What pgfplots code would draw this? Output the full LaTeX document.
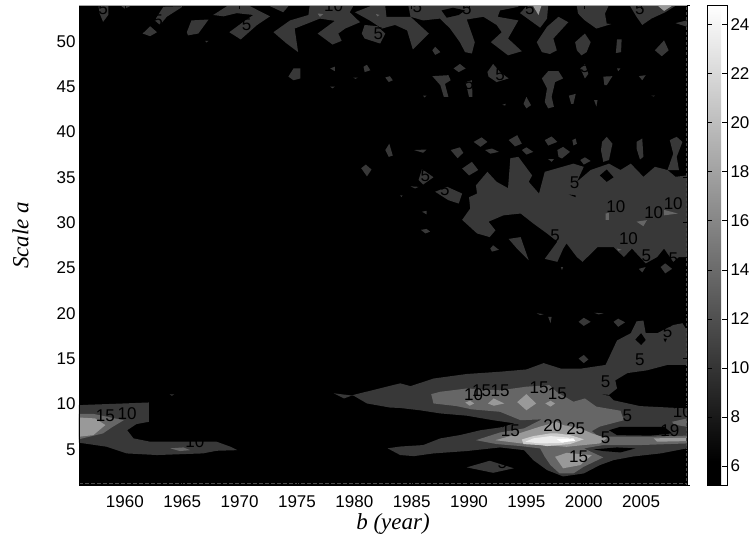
\documentclass[border=0pt]{standalone}
\usepackage{fontspec}
\setmainfont{Liberation Sans}
\newfontfamily\tnr{Liberation Serif}
\usepackage{pgfplots}
\pgfplotsset{compat=1.18}
\definecolor{lA}{gray}{0.22}
\definecolor{lB}{gray}{0.40}
\definecolor{lC}{gray}{0.60}
\definecolor{lD}{gray}{0.80}
\definecolor{lE}{gray}{0.92}
\definecolor{lF}{gray}{1.0}
\newcommand{\region}[2]{\addplot[fill=#1,draw=none,forget plot] coordinates {#2} --cycle;}
\newcommand{\lab}[3]{\node[text=black,font=\fontsize{17}{17}\selectfont,inner sep=0pt] at (axis cs:#1,#2) {#3};}
\begin{document}
\begin{tikzpicture}
\path[use as bounding box] (-79pt,-53.5pt) rectangle (672pt,485.5pt);
\begin{axis}[
  scale only axis,
  width=608pt, height=480.5pt,
  xmin=1956, xmax=2009, ymin=1, ymax=54,
  xtick={1960,1965,...,2005},
  ytick={5,10,...,50},
  tick align=inside,
  major tick length=4pt,
  tick style={black,line width=0.5pt},
  axis on top,
  axis background/.style={fill=black},
  ticklabel style={font=\fontsize{17}{17}\selectfont},
  xticklabel style={yshift=-7pt},
  /pgf/number format/assume math mode=true,
  /pgf/number format/1000 sep={},
  xlabel={\tnr\itshape b (year)},
  ylabel={\tnr\itshape Scale a},
  label style={font=\fontsize{23}{23}\selectfont},
  xlabel style={xshift=10pt,yshift=1pt},
  ylabel style={yshift=21pt,xshift=10pt},
  colormap={cb}{gray(0cm)=(0); gray(1cm)=(0); gray(20cm)=(1)},
  point meta min=5.2, point meta max=24.8,
  colorbar,
  colorbar style={
    scale only axis,
    at={(1.0329,0)}, anchor=south west,
    width=20pt, height=480.5pt,
    ytick={6,8,...,24},
    tick align=inside,
    major tick length=5pt,
    ticklabel style={font=\fontsize{17}{17}\selectfont},
    /pgf/number format/assume math mode=true,
  },
  after end axis/.code={
    \draw[gray!70,line width=0.7pt] (rel axis cs:0,1) -- (rel axis cs:1,1);
    \draw[black,line width=0.7pt] (rel axis cs:1,1) -- ++(3pt,0);
    \draw[black,line width=0.7pt] (rel axis cs:1,0) -- ++(3pt,0);
  },
]
% level 5 band, top left
\region{lA}{(1957.7,53.87) (1958.55,53.87) (1958.55,52.9) (1958.1,52.14) (1957.8,53.06)}
\region{lA}{(1959.7,53.87) (1960.45,53.87) (1960,53.6)}
\region{lA}{(1961.55,50.85) (1962.2,51.66) (1962.8,51) (1962.2,50.56)}
\region{lA}{(1962.6,52.3) (1963.35,53.8) (1965.1,53.87) (1963.65,52.7) (1963.06,51.8)}
\region{lA}{(1965.4,51) (1965.8,52.3) (1967.3,52.4) (1966.4,50.85) (1965.5,50.65)}
\region{lA}{(1967,50.05) (1967.3,50.05) (1967.1,49.86)}
\region{lA}{(1967.7,52.9) (1968.9,53.87) (1970.9,53.87) (1972.65,52.75) (1971.5,51.77) (1970.1,50.2) (1969.1,51) (1970.5,52.3) (1971.2,52.9) (1969.75,53.1) (1968.6,52.75)}
\region{lA}{(1972.95,51) (1974.4,52.3) (1976,52.9) (1976.1,53.87) (1979.9,53.87) (1979.6,53.2) (1980.5,52.1) (1979.2,51.4) (1978.6,50.85) (1978.9,50.05) (1978.1,49.64) (1976.8,50.85) (1978.3,52.25) (1977,52.5) (1974.8,51.4) (1975.1,48.8) (1974.1,49.75)}
\region{lA}{(1972.65,53.87) (1974.25,53.87) (1973.8,53.2)}
\region{lA}{(1980.65,50.85) (1980.9,51.8) (1982,51.66) (1982.7,50.85) (1982.25,49.75) (1980.9,50.3)}
\region{lA}{(1980.05,53.2) (1981.4,53.87) (1982.7,53.87) (1982.8,52.7) (1984.9,52.7) (1986.5,50.85) (1985.1,49.1) (1984.6,51.2) (1983.55,51.8) (1982.4,51.4) (1981.4,52.25)}
\region{lA}{(1977.9,47) (1978.3,47.2) (1978.3,46.7)}
\region{lA}{(1974.25,46.1) (1974.7,47) (1975.3,47) (1975.3,45.9) (1974.7,45.7)}
\region{lA}{(1980.8,47.2) (1981.1,47.4) (1981.4,46.8) (1980.9,46.6)}
\region{lA}{(1979.9,46) (1980.3,46) (1980.1,45.85)}
\region{lA}{(1982.7,46) (1983.1,46.15) (1983.35,45.7) (1983,45.5)}
\region{lA}{(1977.9,45) (1978.3,45) (1978.1,44.8)}
% level 5 band, top right
\region{lA}{(1984.7,54) (1987.47,54) (1987.47,52.5) (1986,52.3) (1984.9,52.7)}
\region{lA}{(1987.47,54) (1994.3,54) (1994.3,53.8) (1992.7,53.4) (1992.5,52.7) (1994.3,52.3) (1993.4,50.3) (1994.6,48.9) (1993.4,48.45) (1991.9,49.9) (1992.85,51) (1992.4,51.8) (1991.25,52.7) (1989.8,52.4) (1990.5,49.9) (1990.25,48.65) (1989.65,48.8) (1989.2,49.9) (1988.35,51.4) (1987.47,52.5)}
\region{black}{(1987.6,53.4) (1988.6,53.7) (1989.65,53.4) (1989.1,52.9) (1988.05,52.6)}
\region{lA}{(1986.8,49) (1987.05,49.4) (1987.5,48.8) (1987.05,48.5)}
\region{lA}{(1994.45,53.1) (1995.1,54) (1996.9,54) (1996.8,52.5) (1996.2,51.5)}
\region{lA}{(1995.9,49.9) (1996.8,51.6) (1997.8,52.7) (1998.65,52.1) (1997.35,50.3) (1997.65,49) (1997.05,48.6) (1996.35,48.8)}
\region{lA}{(1999.4,53.87) (2002.15,53.87) (2001.85,53.06) (2002,51.95) (2002.4,51.9) (2001.1,51.4) (2000.1,52.3) (1999.5,53.06)}
\region{lA}{(2004.05,53.87) (2007.95,53.87) (2007.1,53.2) (2005.9,52.5) (2005.1,51.8) (2004.6,52.7)}
\region{lA}{(2008,52) (2009,52.3) (2009,51.6)}
\region{lA}{(1999.25,49.9) (2000.1,50.85) (2000.6,49.9) (2000.25,48.8) (1999.8,48.45) (1999.4,49)}
\region{lA}{(2002.9,50.2) (2003.3,50.2) (2003.25,48.8) (2002.8,48.7)}
\region{lA}{(2006.2,49) (2007,50.1) (2007.4,49) (2006.8,48.35)}
\region{lA}{(1986.8,46.15) (1988.2,46.26) (1988.4,45.7) (1987.9,45.3) (1988.2,43.87) (1987.8,43.87) (1987.5,45.15)}
\region{lA}{(1989.7,45.5) (1990.25,45.7) (1990.3,43.87) (1990,43.87)}
\region{lA}{(1986,44) (1986.3,44) (1986.1,43.8)}
\region{lA}{(1988.65,47) (1989.2,47.5) (1989.7,47) (1989.1,46.6)}
\region{lA}{(1991.6,46.6) (1992.1,47.5) (1992.7,46.6) (1993.45,45.9) (1992.4,45.5) (1991.7,46.1)}
\region{lA}{(1996.35,45.9) (1996.9,46.7) (1997.8,46.7) (1998.2,45.9) (1997.5,45.5) (1997.2,43.87) (1997.4,42.77) (1996.9,42.6) (1996.6,43.3) (1996.8,44.8)}
\region{lA}{(1992.9,43) (1993.2,43.1) (1993.15,42.9)}
\region{lA}{(1994.75,43.1) (1995,43.87) (1995.4,42.95) (1995,42.6)}
\region{lA}{(1998.7,44) (1999.3,44.2) (1999.1,43.1) (1998.9,43.1)}
\region{lA}{(2000.9,43.5) (2001.2,43.5) (2001.1,42.8)}
\region{lA}{(1999.7,47) (2000.1,47.5) (2000.4,46.4) (2000.1,45.9)}
\region{lA}{(2001.7,46.1) (2002.5,46.15) (2002,45.15) (2001.8,45.15)}
\region{lA}{(2002.9,47) (2003.2,47) (2003,46.7)}
\region{lA}{(2004.8,46.15) (2005.4,46.26) (2005.1,45.7)}
\region{lA}{(2005.9,44) (2006.2,44) (2006.1,43.9)}
% level 5 blobs, middle
\region{lA}{(1982.7,38) (1983.05,38.7) (1983.35,37.4) (1983,37.25)}
\region{lA}{(1980.6,36) (1981,36.4) (1981.5,35.85) (1981.1,35.1)}
\region{lA}{(1984,33) (1984.2,33) (1984.1,32.8)}
\region{lA}{(1985.6,34.7) (1985.9,35.9) (1986.9,35) (1986,34.2)}
\region{lA}{(1987.05,33.4) (1988.1,33.94) (1989.4,33.2) (1989.1,32.1) (1988.2,32.47)}
\region{lA}{(1989.4,35.96) (1990.25,36.7) (1990.8,35.8) (1990,35.2)}
\region{lA}{(1988.4,38) (1989.2,38.3) (1989.5,37.7) (1989,37.1)}
\region{lA}{(1985.2,38) (1986.3,38.06) (1986,37.7)}
\region{lA}{(1990.4,38.9) (1991.1,39.4) (1991.6,38.9) (1991,38.35)}
\region{lA}{(1991.4,38) (1992,38.17) (1992.6,37.8) (1991.85,37.6)}
\region{lA}{(1993.45,39.1) (1994.2,39.64) (1994.6,38.7) (1994,38.4)}
\region{lA}{(1994.6,38) (1995,38.3) (1995.6,37.8) (1995,37.5)}
\region{lA}{(1996.6,39.1) (1997.2,39.5) (1997.7,38.9) (1996.9,38.5)}
\region{lA}{(1999,39.1) (1999.3,39.27) (1999.4,38.7) (1999.1,38.5)}
\region{lA}{(1997.7,38) (1998.2,38.35) (1998.8,37.8) (1998.1,37.07) (1997.8,37.25)}
\region{lA}{(1996.9,37) (1997.4,37) (1997.2,36.7)}
\region{lA}{(1999.7,36.9) (2000.1,37.2) (2000.6,36.8) (2000,36.4)}
\region{lA}{(2001.6,38.9) (2002,39.46) (2002.5,38.7) (2002.2,36.9) (2001.7,36.7) (2001.5,38)}
\region{lA}{(2004.6,38.9) (2005.1,39.27) (2005.2,37.25) (2004.9,36.96) (2004.6,38.17)}
\region{lA}{(2007.5,39.1) (2008.1,39.46) (2008.6,38.9) (2008.1,37.25) (2008.3,35.8) (2007.3,35.8) (2007.8,37.6)}
\region{lA}{(1984.9,34) (1985.6,33.94) (1985.3,33.76)}
\region{lA}{(1985.9,31.2) (1986.3,31.3) (1986.3,30.9)}
\region{lA}{(1985.8,29.2) (1986.3,29.3) (1986.6,29) (1986.2,28.8)}
\region{lA}{(1991.85,27.14) (1992.1,27.5) (1992.6,27) (1992,26.8)}
\region{lA}{(1998,25.1) (1998.2,25.1) (1998.1,24.75)}
\region{lA}{(2004.8,24.9) (2005.4,25.1) (2005.1,24.5)}
\region{lA}{(2006.7,25.1) (2007.1,25.5) (2007.7,24.9) (2007.1,24.4)}
\region{lA}{(1993.45,28.2) (1994.5,28.4) (1995.2,25.85) (1994.2,27.1)}
% plateau around scale 30
\region{lA}{(1989.4,30.3) (1990.1,31.55) (1990,32.8) (1990.7,33.2) (1990.6,34.1) (1991.6,35.6) (1992.4,34.5) (1993.4,33.8) (1993.6,37.1) (1994.3,37.25) (1995.5,35.2) (1995.2,34.5) (1996.1,33.2) (1996.6,35.6) (1999.1,36.5) (2000,36.15) (1999.4,34.5) (2000.6,35.8) (2002.2,36.5) (2003.2,35.8) (2004.1,36.5) (2005.2,35.05) (2006.2,36.15) (2007.3,35.8) (2008,35.05) (2009,35.2) (2009,26.2) (2008.3,26.2) (2007.8,25.67) (2007,27.14) (2006.4,26.2) (2005.4,25.5) (2004.2,27.14) (2003.5,26.2) (2002.6,27.3) (2001.2,27.3) (1999.9,25.67) (1999.4,26.2) (1998.5,27.7) (1998.2,27.1) (1997.7,25.67) (1996.6,26) (1997.7,27.9) (1996.8,28.8) (1995.6,29.9) (1994.5,31) (1993,30.8) (1991.7,30.1) (1992.3,29.15) (1991.8,28.4) (1990.7,28.8)}
\region{black}{(2001.4,35.2) (2002,35.85) (2002.6,35) (2002,34.5)}
\region{black}{(1998.7,33.1) (1999.3,33) (1999.3,32.8)}
% left blob and lower bands, level 5
\region{lA}{(1956,9.87) (1959.9,10.05) (1962.1,10.16) (1962.1,8.03) (1961,7.77) (1960.2,7.1) (1960.75,6.2) (1962.2,5.83) (1968,5.83) (1969.2,5.28) (1969.8,4.9) (1968,4.83) (1966.8,4.54) (1962.8,4.36) (1960.15,4.54) (1958.4,5.28) (1956,5.72)}
\region{lA}{(1963.9,11.05) (1964.3,11.05) (1964.1,10.9)}
\region{lA}{(1978.2,11.17) (1979.1,10.6) (1979.95,11) (1984,12.27) (1984.9,11.96) (1986.9,12.8) (1989.8,13.3) (1992.7,13.55) (1995,13.8) (1996.5,14.5) (1998,13.9) (1999.8,13.9) (2001.9,14.3) (2002.9,17) (2004.1,17.8) (2004.6,19.1) (2005.2,19.2) (2005.4,17.8) (2006.4,17.8) (2007.8,18.7) (2008.6,18.9) (2009,18.1) (2009,14.3) (2007.3,14.3) (2005.5,13.7) (2003.8,13.4) (2002.75,12.6) (2002.9,11.7) (2002.2,11) (2001.2,11.1) (2002.2,10.9) (2002.6,10.4) (2004.9,9.76) (2009,9.5) (2009,5.1) (2006.7,4.54) (2004.3,4.2) (2002.6,3.8) (2001.4,3.25) (2000,2.33) (1998.2,2) (1996.8,2.7) (1995.6,3.8) (1994.8,4.9) (1992.7,5.2) (1989.8,4.8) (1986.9,4.54) (1985.2,4.24) (1984,4.36) (1982.9,5.1) (1984,5.3) (1986,5.46) (1987.5,6.2) (1989.2,6.56) (1991,7.1) (1992.7,7.4) (1994,7.85) (1992.1,8.2) (1989.8,8.7) (1987.5,8.95) (1985.7,9.3) (1984,9.55) (1983.1,9.6) (1981.1,10.05) (1979.95,10.9)}
\region{lA}{(1989.8,3) (1991.8,3.73) (1993.9,2.9) (1992.1,2.4)}
\region{lA}{(1999.55,15) (2000,15.4) (2000.4,14.9) (2000,14.5)}
\region{lA}{(1995.9,20) (1996.5,19.9) (1996.2,19.8)}
\region{lA}{(1996.9,19.6) (1997.2,19.6) (1997.1,18.9)}
\region{lA}{(1999.55,19.06) (2000,19.5) (2000.6,19.06) (2000,18.6)}
\region{lA}{(2000.9,20.05) (2001.7,20) (2001.3,19.87)}
\region{lA}{(2002.6,19.06) (2003,19.4) (2003.6,19) (2003,18.5)}
\region{black}{(2004.5,17.1) (2005,17.8) (2005.4,17.05) (2005,16.5)}
\region{black}{(2006.95,17.2) (2007.25,17.2) (2007.1,16.8)}
% level 10
\region{lB}{(1956,8.9) (1957.25,8.9) (1959.9,8.2) (1958.85,7.4) (1958.1,6.75) (1956,6.1)}
\region{lB}{(1963.95,5.1) (1965.1,5.2) (1965.7,4.9) (1964.8,4.8)}
\region{lB}{(1976.8,53.06) (1977.3,53) (1977,52.7)}
\region{lB}{(1981.9,53) (1982.2,52.9) (1982,52.75)}
\region{lC}{(1995.6,53.87) (1996.3,53.87) (1996.05,52.9)}
\region{lC}{(2006.5,53.87) (2007.65,53.87) (2007,53.35)}
\region{lB}{(2001.9,31) (2002.2,31.07) (2002.2,30.3) (2001.9,30.3)}
\region{lB}{(2004.6,30.1) (2005.5,30.27) (2005.2,29.6)}
\region{lB}{(2007,31.4) (2008.2,31) (2007,30.8)}
\region{lB}{(2002.9,27.14) (2003.3,27) (2003,26.9)}
\region{lB}{(1986.7,11.08) (1987.5,11.34) (1989.8,11.7) (1992.7,11.5) (1995,11.9) (1997,12.07) (1997.65,11.3) (1999.1,10.24) (2000.1,10.6) (2001.1,9.7) (2003.2,9.25) (2003.5,8.2) (2001.4,7.5) (2000.7,7) (2001.3,6.4) (2006.2,6.4) (2009,6.5) (2009,5.64) (2004.9,5.46) (2001.7,5.46) (2000,5.09) (2001.7,4.1) (2000,3.07) (1999.1,2.33) (1997.9,2.33) (1997.1,3.25) (1996.6,4.17) (1996.2,5.09) (1994.5,5.35) (1992.4,5.57) (1990.6,6) (1992.7,6.85) (1994.8,7.3) (1996.35,8.3) (1994.5,8.2) (1992.7,9.13) (1990.25,9.4) (1988.9,9.76) (1986.9,10.05)}
\region{lB}{(2007.7,8.03) (2009,8.4) (2009,7.48) (2007.9,7.7)}
% holes in the lower right
\region{black}{(2002.2,7.1) (2003.2,7.48) (2007,7.48) (2007.7,6.75) (2005.8,6.5) (2002.9,6.56)}
\region{black}{(2000.85,4.98) (2002.9,5.2) (2004.5,5.09) (2003.2,4.65) (2001.7,4.8)}
% level 15
\region{lC}{(1956,8.5) (1957.4,8.4) (1958.3,7.67) (1957.25,6.56) (1956,6.38)}
\region{lC}{(1989.67,10.16) (1990.1,10.35) (1990.45,10.05) (1990.05,9.8)}
\region{lC}{(1991.65,10.05) (1992.15,10.6) (1993.07,10.05) (1992.15,9.8)}
\region{lC}{(1994.2,10.2) (1995,11.08) (1995.85,10.05) (1995,9.3)}
\region{lC}{(1996.65,10.05) (1997.1,10.35) (1997.5,10.05) (1997.1,9.7)}
\region{lC}{(1992.3,6) (1993.9,6.56) (1996.2,7.5) (1997.65,8) (1998.2,7.66) (1999.7,7.3) (2000.7,6.75) (2002,6.2) (2001.4,5.64) (2000,5.46) (1998.5,5.27) (1996.2,5.5) (1994.5,5.65)}
\region{lC}{(2006.1,6.2) (2009,6.27) (2009,5.9) (2006.4,5.83)}
\region{lC}{(1997.5,4.17) (1998.5,4.6) (2000.7,4.35) (1999.7,3.25) (1998.2,2.9)}
% level 20 and 25
\region{lD}{(1994.6,6.08) (1995.6,6.45) (1997.1,6.75) (1997.65,6.75) (1998.8,6.56) (2000,6.1) (1998.8,5.57) (1996.8,5.35) (1996.2,5.46) (1994.75,5.57)}
\region{lE}{(1995.6,6.2) (1997.1,6.45) (1998.8,6.27) (1998.2,5.7) (1996.2,5.64) (1994.9,5.83)}
\region{lF}{(1997.65,6.1) (1999.1,6.2) (1999.25,5.93) (1998.1,5.75)}
% contour labels
\lab{1990.4}{10.97}{10} \lab{1991.1}{11.45}{15} \lab{1992.7}{11.45}{15}
\lab{1996.1}{11.8}{15} \lab{1997.7}{11.1}{15} \lab{1993.6}{7.04}{15}
\lab{1997.3}{7.55}{20} \lab{1999.3}{7.3}{25} \lab{2001.9}{6.3}{5}
\lab{1999.55}{4.2}{15} \lab{2003.8}{8.7}{5} \lab{2001.9}{12.4}{5}
\lab{2004.9}{14.9}{5} \lab{2007.3}{17.96}{5} \lab{2008.6}{9.15}{10}
\lab{2007.5}{7.1}{19} \lab{1992.9}{3.5}{5}
\lab{1958.3}{8.66}{15} \lab{1960.2}{8.9}{10} \lab{1966.1}{5.83}{10}
\lab{2002.8}{31.8}{10} \lab{2006.1}{31.1}{10} \lab{2007.8}{32.1}{10}
\lab{2003.9}{28.2}{10} \lab{2005.45}{26.3}{5} \lab{2007.8}{26}{5}
\lab{1999.2}{34.4}{5} \lab{1997.5}{28.5}{5} \lab{1987.9}{33.6}{5}
\lab{1986.2}{35.2}{5} \lab{1990}{45.3}{5} \lab{1992.7}{46.26}{5}
\lab{2000.1}{47.2}{5} \lab{2004.9}{53.6}{5} \lab{1995.3}{53.6}{5}
\lab{1985.5}{53.8}{5} \lab{1989.8}{53.6}{5} \lab{1982.1}{50.85}{5}
\lab{1978.2}{53.9}{10} \lab{1970.6}{51.8}{5} \lab{1958.1}{53.6}{5}
\lab{1962.9}{52.3}{5}
% faint dashes along the frame
\addplot[gray!60!black,line width=0.5pt,dash pattern=on 4pt off 2pt,forget plot] coordinates {(1956,1.25) (2009,1.25)};
\addplot[gray!60!black,line width=0.5pt,dash pattern=on 3pt off 2pt,forget plot] coordinates {(2008.93,1) (2008.93,54)};
\end{axis}
\end{tikzpicture}
\end{document}
